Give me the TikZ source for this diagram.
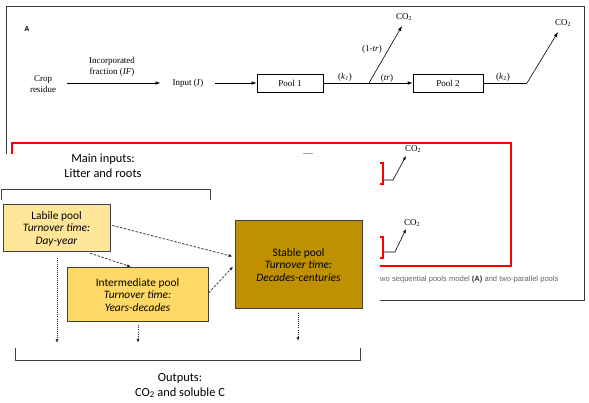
\documentclass[tikz,border=0pt]{standalone}
\usepackage{fontspec}
\setmainfont{Liberation Serif}
\newfontfamily\calibri{Carlito}
\newfontfamily\arial{Liberation Sans}
\usetikzlibrary{arrows.meta}
\definecolor{labilec}{HTML}{FFE699}
\definecolor{interc}{HTML}{FFD966}
\definecolor{stablec}{HTML}{BF9000}
\definecolor{boxline}{HTML}{404040}
\definecolor{panelline}{HTML}{3A3A3A}
\definecolor{captiongray}{HTML}{666666}
\begin{document}
\begin{tikzpicture}[x=1pt,y=-1pt,
 serif/.style={font=\fontsize{9}{11}\selectfont, inner sep=1pt},
 tarrow/.style={-{Latex[length=5pt,width=3.5pt]}, line width=0.6pt},
 sarrow/.style={-{Latex[length=4pt,width=3pt]}, line width=0.6pt},
 tbox/.style={draw=black, line width=0.6pt, minimum height=18pt, font=\fontsize{9}{10}\selectfont},
 pool/.style={draw=boxline, line width=1pt, align=center, font=\calibri\fontsize{11.4}{12.5}\selectfont, inner sep=0pt},
 darrow/.style={dash pattern=on 2.5pt off 1.5pt, -{Latex[length=4pt,width=3pt]}, line width=0.7pt, draw=black!85},
 dotarrow/.style={dash pattern=on 1pt off 1pt, -{Latex[length=4pt,width=3pt]}, line width=0.7pt, draw=black!85},
 lab/.style={font=\calibri\fontsize{12.4}{15}\selectfont, align=center},
 bracket/.style={draw=boxline, line width=1pt}
]
\useasboundingbox (0,0) rectangle (589,403);
\fill[white] (0,0) rectangle (589,403);

% ---------- top panel (A) ----------
\draw[panelline, line width=0.8pt] (6,6) rectangle (584,300);
\node[font=\arial\bfseries\fontsize{7}{8}\selectfont] (A) at (27,29) {A};
\node[serif, align=center] (crop) at (43,84.5) {Crop\\residue};
\node[serif] (input) at (188,83) {Input (\textit{I})};
\node[tbox, minimum width=66pt] (pool1) at (290,83) {Pool 1};
\node[tbox, minimum width=70pt] (pool2) at (448,83) {Pool 2};
\draw[tarrow, shorten <=10pt, shorten >=11pt] (crop.east |- input) -- (input.west);
\node[serif, align=center] (iflab) at (112,66.5) {Incorporated\\fraction (\textit{IF})};
\draw[tarrow, shorten <=11pt] (input.east) -- (pool1.west);
\coordinate (br1) at (369,83);
\coordinate (tip1) at (402,26);
\coordinate (br2) at (527,83);
\coordinate (tip2) at (558,32);
\draw[tarrow] (pool1.east) -- (pool2.west);
\draw[tarrow] (br1) -- (tip1);
\draw[line width=0.6pt] (pool2.east) -- (br2);
\draw[tarrow] (br2) -- (tip2);
\node[serif] (co2a) at (404,17) {CO\textsubscript{2}};
\node[serif] (co2b) at (563,23) {CO\textsubscript{2}};
\node[serif] (k1) at (345,77) {(\textit{k}\textsubscript{\textit{1}})};
\node[serif] (tr) at (387,78.5) {(\textit{tr})};
\node[serif] (onetr) at (372,49) {(1-\textit{tr})};
\node[serif] (k2) at (503,77.5) {(\textit{k}\textsubscript{2})};

% ---------- red highlight ----------
\draw[red, line width=2pt] (12,143) rectangle (511,266);
\draw[red, line width=2pt] (360,163) rectangle (383,184);
\draw[red, line width=2pt] (360,237) rectangle (383,258);
\coordinate (rb1) at (384,180);
\coordinate (kn1) at (393,180);
\coordinate (tip3) at (406,156);
\coordinate (rb2) at (384,252);
\coordinate (kn2) at (395,252);
\coordinate (tip4) at (406,229);
\draw[sarrow] (rb1) -- (kn1) -- (tip3);
\draw[sarrow] (rb2) -- (kn2) -- (tip4);
\node[serif] (co2c) at (413,149) {CO\textsubscript{2}};
\node[serif] (co2d) at (412,223) {CO\textsubscript{2}};
\node[anchor=west, inner sep=0pt, text=captiongray, font=\arial\fontsize{7.6}{8}\selectfont] (caption) at (380,279.5) {wo sequential pools model \textcolor{black!80}{\textbf{(A)}} and two-parallel pools};

% ---------- overlay ----------
\fill[white] (0,154) rectangle (380,403);
\draw[gray!70, line width=0.6pt] (303,153) -- (313,153);

\node[lab] (inputs) at (103,165.5) {Main inputs:\\Litter and roots};
\draw[bracket] (1,200) -- (1,190) -- (210,190) -- (210,200);

\node[pool, fill=labilec, minimum width=107pt, minimum height=47pt] (lab) at (56.5,228.5)
  {Labile pool\\\textit{Turnover time:}\\\textit{Day-year}};
\node[pool, fill=interc, minimum width=141pt, minimum height=54pt] (inter) at (137.5,295)
  {Intermediate pool\\\textit{Turnover time:}\\\textit{Years-decades}};
\node[pool, fill=stablec, minimum width=127pt, minimum height=88pt] (stable) at (298.5,265)
  {Stable pool\\\textit{Turnover time:}\\\textit{Decades-centuries}};

\draw[darrow, shorten <=2pt, shorten >=2pt] ([yshift=3.5pt]lab.east) -- ([yshift=8pt]stable.west);
\draw[darrow, shorten <=2pt, shorten >=2pt] ([xshift=31.5pt]lab.south) -- ([xshift=-4.5pt]inter.north);
\draw[darrow, shorten >=2pt] ([yshift=2pt]inter.east) -- (stable.west);

\coordinate (o1) at (57,343);
\coordinate (o2) at (138,343);
\coordinate (o3) at (298,341);
\draw[dotarrow, shorten <=6pt] (lab.south -| o1) -- (o1);
\draw[dotarrow, shorten <=3pt] (inter.south -| o2) -- (o2);
\draw[dotarrow, shorten <=4pt] (stable.south -| o3) -- (o3);

\draw[bracket] (15,348) -- (15,360) -- (360,360) -- (360,348);
\node[lab] (outputs) at (180,385.5) {Outputs:\\CO\textsubscript{2} and soluble C};
\end{tikzpicture}
\end{document}
